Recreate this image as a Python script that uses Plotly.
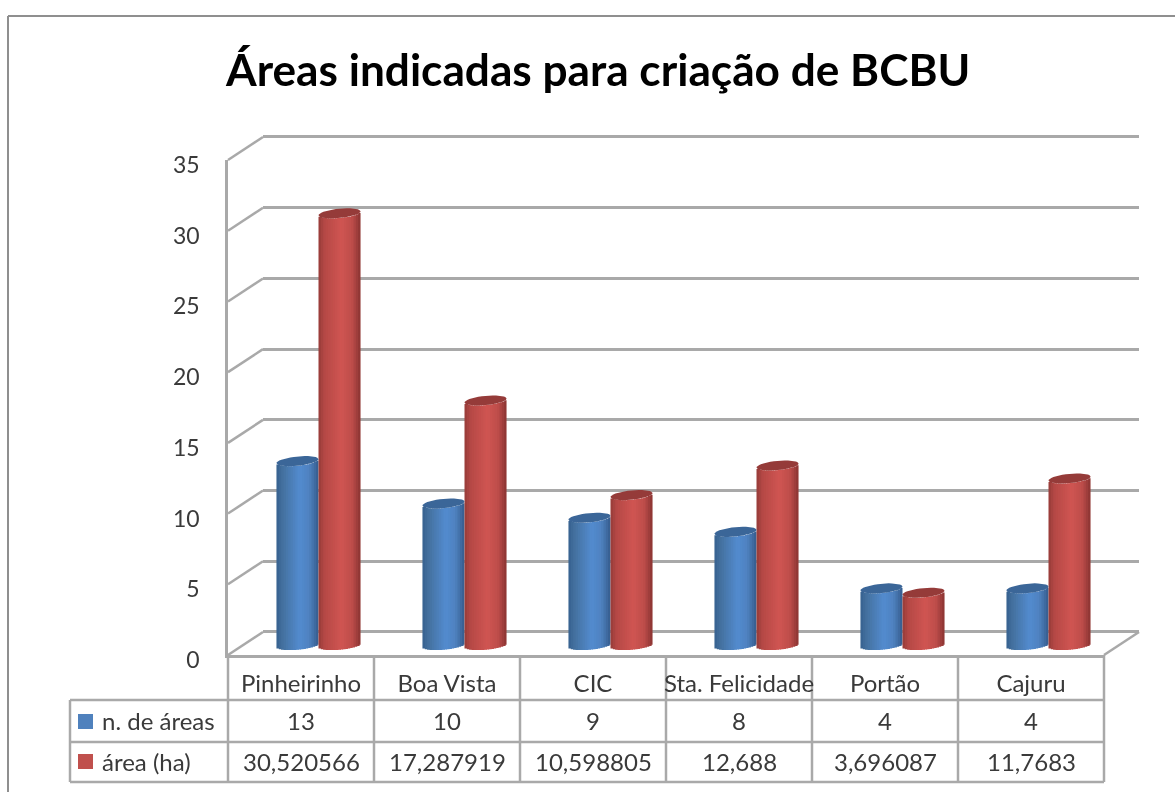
import math
import plotly.graph_objects as go

# ---- data ----
categories = ["Pinheirinho", "Boa Vista", "CIC", "Sta. Felicidade", "Portão", "Cajuru"]
n_areas = [13, 10, 9, 8, 4, 4]
area_ha = [30.520566, 17.287919, 10.598805, 12.688, 3.696087, 11.7683]
series_names = ["n. de áreas", "área (ha)"]
title_text = "Áreas indicadas para criação de BCBU"
y_ticks = [0, 5, 10, 15, 20, 25, 30, 35]

# ---- layout constants (pixels in the 1175x792 page) ----
W, H = 1175, 792
FX0, FX1 = 228, 1104      # front plane
FY0, FY35 = 655, 160
DX, DY = 35, 23           # depth of the chart box
MX, MY = 17.5, 10         # depth of the cylinders
PX_PER_UNIT = (FY0 - FY35) / 35
LOW, HIGH = -2, 37        # cylinder axis range (room for the rounded ends)
WALL_TOP = 36             # back-wall axis runs a little past 35 so its top gridline is kept
BAR_W = 0.288
STRIPS = 18
K = 0.33                  # ellipse half height, axis units
TILT = 0.14

GRID = "#a9a9a9"
TEXT = "#3a3a3a"
FONT = "Lato"
TABLE_SIZE = 24

def hexmix(c1, c2, t):
    a = [int(c1[i:i + 2], 16) for i in (1, 3, 5)]
    b = [int(c2[i:i + 2], 16) for i in (1, 3, 5)]
    return "#%02x%02x%02x" % tuple(round(p + (q - p) * t) for p, q in zip(a, b))

def shade(stops, u):
    for (u0, c0), (u1, c1) in zip(stops, stops[1:]):
        if u <= u1:
            return hexmix(c0, c1, (u - u0) / (u1 - u0))
    return stops[-1][1]

BLUE_STOPS = [(0, "#37618f"), (0.15, "#44719f"), (0.55, "#538bcf"), (0.78, "#4f82c0"), (1, "#355c8c")]
RED_STOPS = [(0, "#963b39"), (0.15, "#b64946"), (0.55, "#d05552"), (0.8, "#bd4d4a"), (1, "#8a3432")]
CAPS = ["#3b6698", "#953b39"]

def xn(px):
    return px / W

def yn(px):
    return 1 - px / H

fig = go.Figure()
idx = list(range(len(categories)))

# invisible carriers for the front-plane axes and the back-wall axes
fig.add_trace(go.Scatter(x=idx, y=n_areas, mode="none", xaxis="x", yaxis="y", hoverinfo="skip", showlegend=False))
fig.add_trace(go.Scatter(x=idx, y=n_areas, mode="none", xaxis="x2", yaxis="y2", hoverinfo="skip", showlegend=False))

# cylinders: vertical strips of a bar, whose ends follow the ellipse
for s, (vals, stops, sign) in enumerate(((n_areas, BLUE_STOPS, -1), (area_ha, RED_STOPS, 1))):
    centre = sign * BAR_W / 2
    strip_w = BAR_W / STRIPS
    for j in range(STRIPS):
        u = (j + 0.5) / STRIPS
        d = 2 * u - 1
        lift = -K * math.sqrt(1 - d * d) + TILT * d
        fig.add_trace(go.Bar(
            x=idx, y=vals, base=[lift] * len(vals),
            width=strip_w * (1.0 if j == STRIPS - 1 else 1.6),
            offset=centre - BAR_W / 2 + j * strip_w,
            marker=dict(color=shade(stops, u), line=dict(width=0)),
            name=series_names[s], xaxis="x3", yaxis="y3",
            hoverinfo="skip", showlegend=False,
        ))
    for i, v in zip(idx, vals):
        ex, ey = [], []
        for a in range(0, 361, 10):
            t = math.radians(a)
            ex.append(i + centre + BAR_W / 2 * math.cos(t))
            ey.append(v + K * math.sin(t) + TILT * math.cos(t))
        fig.add_trace(go.Scatter(
            x=ex, y=ey, mode="lines", fill="toself", fillcolor=CAPS[s],
            line=dict(width=0, color=CAPS[s]), xaxis="x3", yaxis="y3",
            hoverinfo="skip", showlegend=False,
        ))

shapes = []

def line(x0, y0, x1, y1, color=GRID, width=2.5):
    shapes.append(dict(type="line", xref="paper", yref="paper", x0=xn(x0), y0=yn(y0), x1=xn(x1), y1=yn(y1),
                       line=dict(color=color, width=width), layer="below"))

# chart frame
line(8, 16, W, 16, "#8f8f8f", 2)
line(8, 16, 8, H, "#8f8f8f", 2)

# side wall and floor slants
for t in y_ticks:
    py = FY0 - t * PX_PER_UNIT
    line(FX0, py, FX0 + DX, py - DY)
line(FX1, FY0, FX1 + DX, FY0 - DY)

# data table grid
ROWS = [700, 742, 782]
COL_W = (FX1 - FX0) / len(categories)
TBL_L = 70
for r in ROWS:
    line(TBL_L, r, FX1, r)
line(TBL_L, ROWS[0], TBL_L, ROWS[-1])
for c in range(len(categories) + 1):
    line(FX0 + c * COL_W, FY0, FX0 + c * COL_W, ROWS[-1])

# legend keys
for top, col in ((714, "#4f81bd"), (754, "#c0504d")):
    shapes.append(dict(type="rect", xref="paper", yref="paper", x0=xn(78), x1=xn(93), y0=yn(top + 15), y1=yn(top),
                       fillcolor=col, line=dict(width=0)))

annotations = []

def cell(text, x, xref, py, anchor="center"):
    annotations.append(dict(text=text, x=x, xref=xref, y=yn(py), yref="paper", xanchor=anchor, yanchor="middle",
                            showarrow=False, font=dict(family=FONT, size=TABLE_SIZE, color=TEXT)))

cell(series_names[0], xn(100), "paper", 720, "left")
cell(series_names[1], xn(100), "paper", 761, "left")
for i in idx:
    cell(str(n_areas[i]).replace(".", ","), i, "x", 720)
    cell(str(area_ha[i]).replace(".", ","), i, "x", 761)

axis_off = dict(visible=False, showgrid=False, zeroline=False)
fig.update_layout(
    width=W, height=H, margin=dict(l=0, r=0, t=0, b=0, pad=0, autoexpand=False),
    paper_bgcolor="white", plot_bgcolor="rgba(0,0,0,0)",
    barmode="overlay", showlegend=False,
    title=dict(text=title_text, x=xn(226), xref="paper", xanchor="left", y=yn(71), yref="paper", yanchor="middle",
               font=dict(family=FONT, size=44.2, color="#000000", weight="bold")),
    xaxis=dict(domain=[xn(FX0), xn(FX1)], range=[-0.5, 5.5], tickvals=idx, ticktext=categories,
               showline=True, linecolor=GRID, linewidth=2.5, showgrid=False, zeroline=False,
               ticks="outside", ticklen=0, ticklabelstandoff=5, anchor="y",
               tickfont=dict(family=FONT, size=TABLE_SIZE, color=TEXT)),
    yaxis=dict(domain=[yn(FY0), yn(FY35)], range=[0, 35], tickvals=y_ticks,
               showline=True, linecolor=GRID, linewidth=2.5, showgrid=False, zeroline=False,
               ticks="outside", ticklen=0, ticklabelstandoff=21, ticklabelshift=5, anchor="x",
               tickfont=dict(family=FONT, size=23, color=TEXT)),
    xaxis2=dict(domain=[xn(FX0 + DX), xn(FX1 + DX)], range=[-0.5, 5.5], anchor="y2", **axis_off),
    yaxis2=dict(domain=[yn(FY0 - DY), yn(FY0 - DY - WALL_TOP * PX_PER_UNIT)], range=[0, WALL_TOP], dtick=5, anchor="x2",
                showgrid=True, gridcolor=GRID, gridwidth=2.5, zeroline=True, zerolinecolor=GRID, zerolinewidth=2.5,
                showticklabels=False, showline=False),
    xaxis3=dict(domain=[xn(FX0 + MX), xn(FX1 + MX)], range=[-0.5, 5.5], anchor="y3", **axis_off),
    yaxis3=dict(domain=[yn(FY0 - MY - LOW * PX_PER_UNIT), yn(FY0 - MY - HIGH * PX_PER_UNIT)], range=[LOW, HIGH],
                anchor="x3", **axis_off),
    shapes=shapes, annotations=annotations,
)

fig.write_html("out.html", config=dict(displayModeBar=False),
               post_script="document.body.style.margin='0';document.body.style.overflow='hidden';"
                           "document.querySelector('.plotly-graph-div').style.filter='blur(0.6px)';")
